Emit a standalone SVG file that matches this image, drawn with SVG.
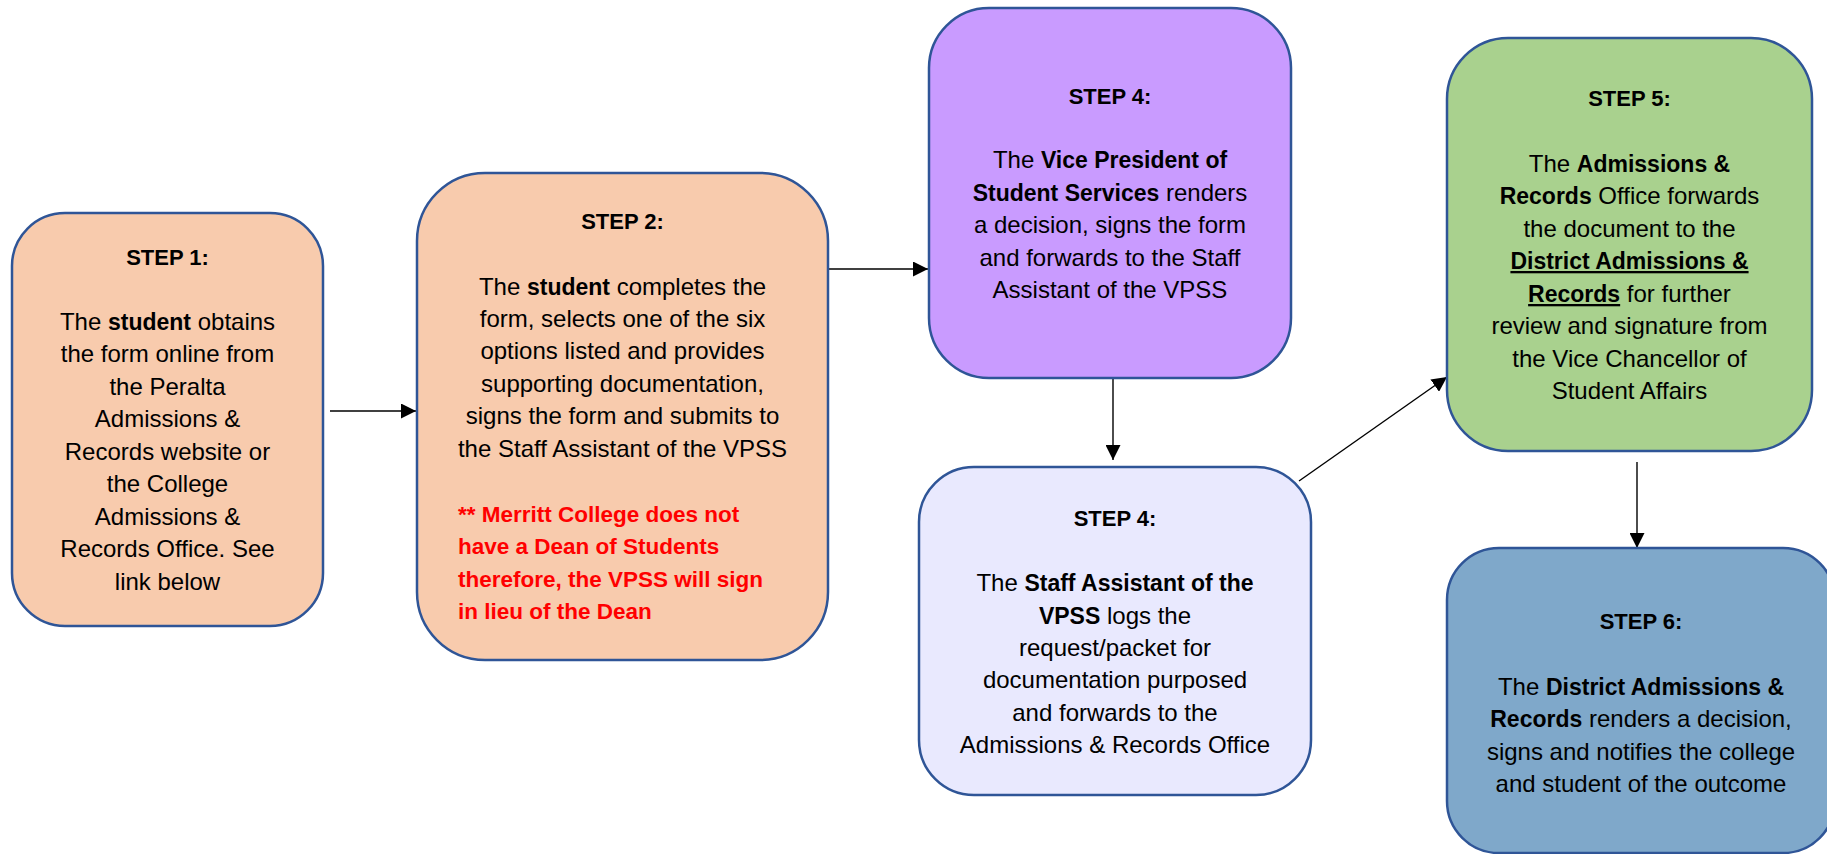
<svg xmlns="http://www.w3.org/2000/svg" width="1827" height="854" viewBox="0 0 1827 854">
<style>
.box{stroke:#2F5597;stroke-width:2.5}
.t{font-family:"Liberation Sans",Arial,sans-serif;font-size:24px;fill:#000;text-anchor:middle}
.b{font-weight:bold;font-size:23px}
.s{font-weight:bold;font-size:22px}
.u{text-decoration:underline}
.red{font-family:"Liberation Sans",Arial,sans-serif;font-size:22.5px;font-weight:bold;fill:#FF0000}
.conn{stroke:#000;stroke-width:1.4;fill:none}
</style>
<defs>
<marker id="arr" viewBox="0 0 15 15" refX="15" refY="7.5" markerWidth="15" markerHeight="15" markerUnits="userSpaceOnUse" orient="auto">
<path d="M0,0 L15,7.5 L0,15 Z" fill="#000"/>
</marker>
</defs>
<rect width="1827" height="854" fill="#fff"/>

<g id="connectors">
<line class="conn" x1="330" y1="411" x2="416" y2="411" marker-end="url(#arr)"/>
<line class="conn" x1="828" y1="269" x2="928" y2="269" marker-end="url(#arr)"/>
<line class="conn" x1="1113" y1="378" x2="1113" y2="460" marker-end="url(#arr)"/>
<line class="conn" x1="1299" y1="481" x2="1447" y2="377" marker-end="url(#arr)"/>
<line class="conn" x1="1637" y1="462" x2="1637" y2="548" marker-end="url(#arr)"/>
</g>

<g id="step1">
<rect class="box" x="12" y="213" width="311" height="413" rx="53" fill="#F8CBAD"/>
<text class="t" x="167.5" y="265"><tspan class="s">STEP 1:</tspan></text>
<text class="t" x="167.5" y="330">The <tspan class="b">student</tspan> obtains</text>
<text class="t" x="167.5" y="362">the form online from</text>
<text class="t" x="167.5" y="395">the Peralta</text>
<text class="t" x="167.5" y="427">Admissions &amp;</text>
<text class="t" x="167.5" y="460">Records website or</text>
<text class="t" x="167.5" y="492">the College</text>
<text class="t" x="167.5" y="525">Admissions &amp;</text>
<text class="t" x="167.5" y="557">Records Office. See</text>
<text class="t" x="167.5" y="590">link below</text>
</g>

<g id="step2">
<rect class="box" x="417" y="173" width="411" height="487" rx="68" fill="#F8CBAD"/>
<text class="t" x="622.5" y="229"><tspan class="s">STEP 2:</tspan></text>
<text class="t" x="622.5" y="295">The <tspan class="b">student</tspan> completes the</text>
<text class="t" x="622.5" y="327">form, selects one of the six</text>
<text class="t" x="622.5" y="359">options listed and provides</text>
<text class="t" x="622.5" y="392">supporting documentation,</text>
<text class="t" x="622.5" y="424">signs the form and submits to</text>
<text class="t" x="622.5" y="457">the Staff Assistant of the VPSS</text>
<text class="red" x="458" y="522">** Merritt College does not</text>
<text class="red" x="458" y="554">have a Dean of Students</text>
<text class="red" x="458" y="587">therefore, the VPSS will sign</text>
<text class="red" x="458" y="619">in lieu of the Dean</text>
</g>

<g id="step4a">
<rect class="box" x="929" y="8" width="362" height="370" rx="60" fill="#C99BFF"/>
<text class="t" x="1110" y="104"><tspan class="s">STEP 4:</tspan></text>
<text class="t" x="1110" y="168">The <tspan class="b">Vice President of</tspan></text>
<text class="t" x="1110" y="201"><tspan class="b">Student Services</tspan> renders</text>
<text class="t" x="1110" y="233">a decision, signs the form</text>
<text class="t" x="1110" y="266">and forwards to the Staff</text>
<text class="t" x="1110" y="298">Assistant of the VPSS</text>
</g>

<g id="step4b">
<rect class="box" x="919" y="467" width="392" height="328" rx="55" fill="#E9E9FE"/>
<text class="t" x="1115" y="526"><tspan class="s">STEP 4:</tspan></text>
<text class="t" x="1115" y="591">The <tspan class="b">Staff Assistant of the</tspan></text>
<text class="t" x="1115" y="623.5"><tspan class="b">VPSS</tspan> logs the</text>
<text class="t" x="1115" y="656">request/packet for</text>
<text class="t" x="1115" y="688">documentation purposed</text>
<text class="t" x="1115" y="720.5">and forwards to the</text>
<text class="t" x="1115" y="753">Admissions &amp; Records Office</text>
</g>

<g id="step5">
<rect class="box" x="1447" y="38" width="365" height="413" rx="61" fill="#A9D18E"/>
<text class="t" x="1629.5" y="106"><tspan class="s">STEP 5:</tspan></text>
<text class="t" x="1629.5" y="172">The <tspan class="b">Admissions &amp;</tspan></text>
<text class="t" x="1629.5" y="204"><tspan class="b">Records</tspan> Office forwards</text>
<text class="t" x="1629.5" y="237">the document to the</text>
<text class="t" x="1629.5" y="269"><tspan class="b u">District Admissions &amp;</tspan></text>
<text class="t" x="1629.5" y="302"><tspan class="b u">Records</tspan> for further</text>
<text class="t" x="1629.5" y="334">review and signature from</text>
<text class="t" x="1629.5" y="367">the Vice Chancellor of</text>
<text class="t" x="1629.5" y="399">Student Affairs</text>
</g>

<g id="step6">
<rect class="box" x="1447" y="548" width="388" height="305" rx="52" fill="#7FA8CA"/>
<text class="t" x="1641" y="629"><tspan class="s">STEP 6:</tspan></text>
<text class="t" x="1641" y="695">The <tspan class="b">District Admissions &amp;</tspan></text>
<text class="t" x="1641" y="727"><tspan class="b">Records</tspan> renders a decision,</text>
<text class="t" x="1641" y="760">signs and notifies the college</text>
<text class="t" x="1641" y="792">and student of the outcome</text>
</g>
</svg>
